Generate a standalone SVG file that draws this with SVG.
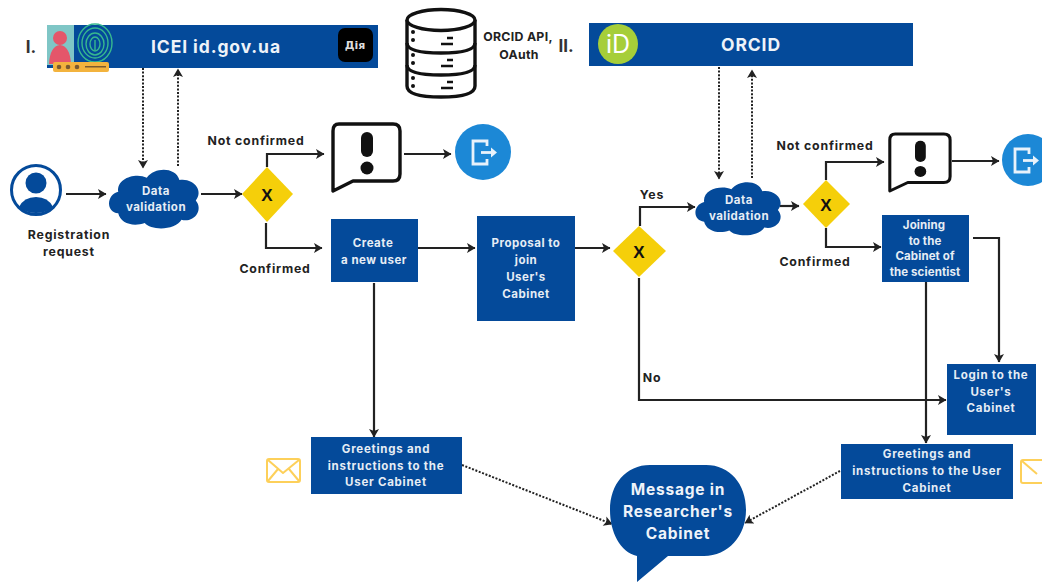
<svg xmlns="http://www.w3.org/2000/svg" width="1042" height="582" viewBox="0 0 1042 582">
<style>
text{font-family:"Inter","Open Sans","Liberation Sans",sans-serif;font-weight:700;text-anchor:middle}
.n{fill:#044a9a}
.w{fill:#e6edf5;font-size:11.500px;letter-spacing:.5px}
.g{letter-spacing:.75px}
.t{letter-spacing:.1px}
.k{fill:#222;font-size:12.300px;letter-spacing:.8px}
.c{fill:none;stroke:#222;stroke-width:2.200;marker-end:url(#a)}
.d{fill:none;stroke:#222;stroke-width:2;stroke-dasharray:2 1.600;marker-end:url(#a)}
.y{fill:#f5cf0a}
.x{fill:#111;font-size:17px;font-family:"Liberation Sans",sans-serif}
.o{fill:none;stroke:#111;stroke-width:3.400;stroke-linejoin:round}
.b{fill:#1c88d6}
.e{fill:none;stroke:#fdd05a;stroke-width:2;stroke-linejoin:round}
.h{fill:#eef3f9;font-size:17.500px;letter-spacing:.9px}
.m{fill:#eef3f9;font-size:15.500px;letter-spacing:.8px}
.r{fill:#333;font-size:17px}
</style>
<defs>
<marker id="a" viewBox="0 0 10 10" refX="9" refY="5" markerWidth="10" markerHeight="10" markerUnits="userSpaceOnUse" orient="auto"><path d="M1 0L9.500 5L1 10L3 5Z" fill="#222"/></marker>
<path id="cloud" d="M-38 17C-50 16-50 0-38-3C-40-16-20-21-10-16C-2-26 18-26 22-14C36-16 46-4 38 5C46 14 36 26 24 23C18 33-6 33-12 26C-24 30-36 26-38 17Z"/>
<g id="bang"><path class="o" d="M8 0H62Q69 0 69 7V50Q69 57 62 57H22L2 67V7Q2 0 8 0Z"/><rect x="30" y="8" width="12" height="25" rx="6" fill="#111"/><circle cx="36" cy="44" r="6.500" fill="#111"/></g>
<g id="exit"><path d="M5-6V-11H-9V12H5V7" fill="none" stroke="#e8f2fb" stroke-width="2.800"/><path d="M-1 0.500H11" fill="none" stroke="#e8f2fb" stroke-width="2.800"/><path d="M9-4.500L15 0.500L9 5.500Z" fill="#e8f2fb"/></g>
</defs>
<rect width="1042" height="582" fill="#fff"/>

<g id="connectors">
<path class="d" d="M143 68V168"/>
<path class="d" d="M178 166V69"/>
<path class="c" d="M66 194H106"/>
<path class="c" d="M201 194H242"/>
<path class="c" d="M267 167V154H324"/>
<path class="c" d="M404 154H451"/>
<path class="c" d="M266 223V248H322"/>
<path class="c" d="M418 248H475"/>
<path class="c" d="M374 283V437"/>
<path class="c" d="M574 248H610"/>
<path class="c" d="M640 226V207H695"/>
<path class="d" d="M719 67V179"/>
<path class="d" d="M752 178V70"/>
<path class="c" d="M780 206H799"/>
<path class="c" d="M826 180V162H884"/>
<path class="c" d="M952 161H999"/>
<path class="c" d="M826 228V247H881"/>
<path class="c" d="M639 278V400H946"/>
<path class="c" d="M973 238H999V362"/>
<path class="c" d="M926 282V443"/>
<path class="d" d="M462 465L612 524"/>
<path class="d" d="M840 471L745 523"/>
</g>

<g id="header-1">
<text class="r" x="31" y="53">I.</text>
<rect class="n" x="47" y="25" width="331" height="43"/>
<rect x="47" y="25" width="27" height="40" fill="#7fc6c6"/>
<circle cx="60" cy="38" r="7" fill="#e4566a"/>
<path d="M49 64Q50 46 60 45Q70 46 71 64Z" fill="#e4566a"/>
<g fill="none" stroke="#37b88f" stroke-width="1.400"><ellipse cx="95" cy="43" rx="17" ry="19"/><ellipse cx="95" cy="43" rx="13" ry="15"/><ellipse cx="95" cy="44" rx="9" ry="11"/><ellipse cx="95" cy="44" rx="5" ry="7"/><path d="M95 40V50"/></g>
<rect x="53" y="62" width="56" height="10" rx="2" fill="#f3b33d"/>
<g fill="#7a5a30"><circle cx="59" cy="67" r="2.300"/><circle cx="68" cy="67" r="2.300"/><circle cx="77" cy="67" r="2.300"/><rect x="85" y="66" width="21" height="1.500"/></g>
<text class="h" x="216" y="53">ICEI id.gov.ua</text>
<rect x="338" y="28" width="35" height="34" rx="7" fill="#000"/>
<text x="355" y="49" style="font-size:11px;font-family:'DejaVu Sans',sans-serif" fill="#ddd">Дія</text>
</g>

<g id="database" fill="#fff" stroke="#111" stroke-width="3.400">
<path d="M407 20V86Q407 97 441 97Q475 97 475 86V20"/>
<ellipse cx="441" cy="20" rx="34" ry="10.500"/>
<path d="M407 43Q407 53 441 53Q475 53 475 43M407 65Q407 75 441 75Q475 75 475 65" fill="none"/>
<g stroke-width="2.400"><path d="M441 44H453M447 38H453M441 66H453M447 60H453M441 88H453M447 82H453"/></g>
<g fill="#111" stroke="none"><circle cx="413" cy="32" r="2"/><circle cx="413" cy="40" r="2"/><circle cx="413" cy="55" r="2"/><circle cx="413" cy="63" r="2"/><circle cx="413" cy="78" r="2"/><circle cx="413" cy="86" r="2"/></g>
</g>
<g id="label-api">
<text class="k" x="518" y="41" style="letter-spacing:.3px">ORCID API,</text>
<text class="k" x="519" y="59" style="letter-spacing:.3px">OAuth</text>
</g>

<g id="header-2">
<text class="r" x="566" y="52">II.</text>
<rect class="n" x="589" y="23" width="324" height="43"/>
<circle cx="618" cy="44" r="20" fill="#a6ce39"/>
<text x="618" y="53" style="font-size:25px;font-weight:400" fill="#fff">iD</text>
<text class="h" x="751" y="51">ORCID</text>
</g>

<g id="user">
<circle cx="36" cy="190" r="24.500" fill="#fff" stroke="#044a9a" stroke-width="3"/>
<circle cx="36" cy="183" r="10.500" class="n"/>
<path class="n" d="M19 207Q24 197 36 197Q48 197 53 207Q46 213 36 213Q26 213 19 207Z"/>
<text class="k" x="69" y="239">Registration</text>
<text class="k" x="69" y="256">request</text>
</g>

<g id="validation-1"><use href="#cloud" class="n" transform="translate(157 195) scale(1.020 1.080)"/><text class="w" x="156" y="195">Data</text><text class="w" x="156" y="211">validation</text></g>
<g id="gate-1"><path class="y" d="M267 167L293 194L267 222L242 194Z"/><text class="x" x="267" y="201">X</text></g>
<g id="label-nc1"><text class="k" x="256" y="145">Not confirmed</text></g>
<g id="label-c1"><text class="k" x="275" y="273">Confirmed</text></g>
<g id="alert-1"><use href="#bang" x="331" y="124"/></g>
<g id="exit-1"><circle class="b" cx="483" cy="152" r="28"/><use href="#exit" x="482" y="152"/></g>

<g id="create-user"><rect class="n" x="331" y="219" width="87" height="63"/><text class="w" x="373" y="247">Create</text><text class="w" x="374" y="264">a new user</text></g>
<g id="proposal"><rect class="n" x="477" y="216" width="98" height="105"/><text class="w" x="526" y="247">Proposal to</text><text class="w" x="526" y="264">join</text><text class="w" x="526" y="281">User's</text><text class="w" x="526" y="298">Cabinet</text></g>
<g id="gate-2"><path class="y" d="M639 226L666 251L639 277L613 251Z"/><text class="x" x="639" y="258">X</text></g>
<g id="label-yes"><text class="k" x="652" y="199">Yes</text></g>
<g id="label-no"><text class="k" x="652" y="382">No</text></g>
<g id="validation-2"><use href="#cloud" class="n" transform="translate(741 205) scale(.97 .98)"/><text class="w" x="739" y="204">Data</text><text class="w" x="739" y="220">validation</text></g>
<g id="gate-3"><path class="y" d="M826 180L850 204L826 228L803 204Z"/><text class="x" x="826" y="211">X</text></g>
<g id="label-nc2"><text class="k" x="825" y="150">Not confirmed</text></g>
<g id="label-c2"><text class="k" x="815" y="266">Confirmed</text></g>
<g id="alert-2"><use href="#bang" transform="translate(888 134) scale(.9 .85)"/></g>
<g id="exit-2"><circle class="b" cx="1028" cy="160" r="26"/><use href="#exit" x="1024" y="160"/></g>
<g id="joining"><rect class="n" x="882" y="215" width="87" height="67"/><text class="w t" x="924" y="229">Joining</text><text class="w t" x="925" y="245">to the</text><text class="w t" x="925" y="260">Cabinet of</text><text class="w t" x="925" y="276">the scientist</text></g>
<g id="login"><rect class="n" x="947" y="364" width="89" height="71"/><text class="w g" x="991" y="379">Login to the</text><text class="w g" x="991" y="396">User's</text><text class="w g" x="991" y="412">Cabinet</text></g>
<g id="greetings-1"><rect class="n" x="311" y="437" width="151" height="57"/><text class="w g" x="386" y="453">Greetings and</text><text class="w g" x="386" y="470">instructions to the</text><text class="w g" x="386" y="486">User Cabinet</text></g>
<g id="greetings-2"><rect class="n" x="841" y="444" width="172" height="55"/><text class="w g" x="927" y="458">Greetings and</text><text class="w g" x="927" y="475">instructions to the User</text><text class="w g" x="927" y="492">Cabinet</text></g>
<g id="mail-1"><rect class="e" x="267" y="459" width="33" height="23" rx="2"/><path class="e" d="M268 460L283 473L299 460M268 481L278 469M299 481L289 469"/></g>
<g id="mail-2"><rect class="e" x="1021" y="460" width="33" height="23" rx="2"/><path class="e" d="M1022 461L1037 474"/></g>
<g id="message"><path class="n" d="M650 465H706C730 465 746 484 746 510C746 536 728 556 704 556H668L637 582V556C620 552 610 532 610 510C610 484 626 465 650 465Z"/><text class="m" x="678" y="495">Message in</text><text class="m" x="678" y="517">Researcher's</text><text class="m" x="678" y="539">Cabinet</text></g>
</svg>
